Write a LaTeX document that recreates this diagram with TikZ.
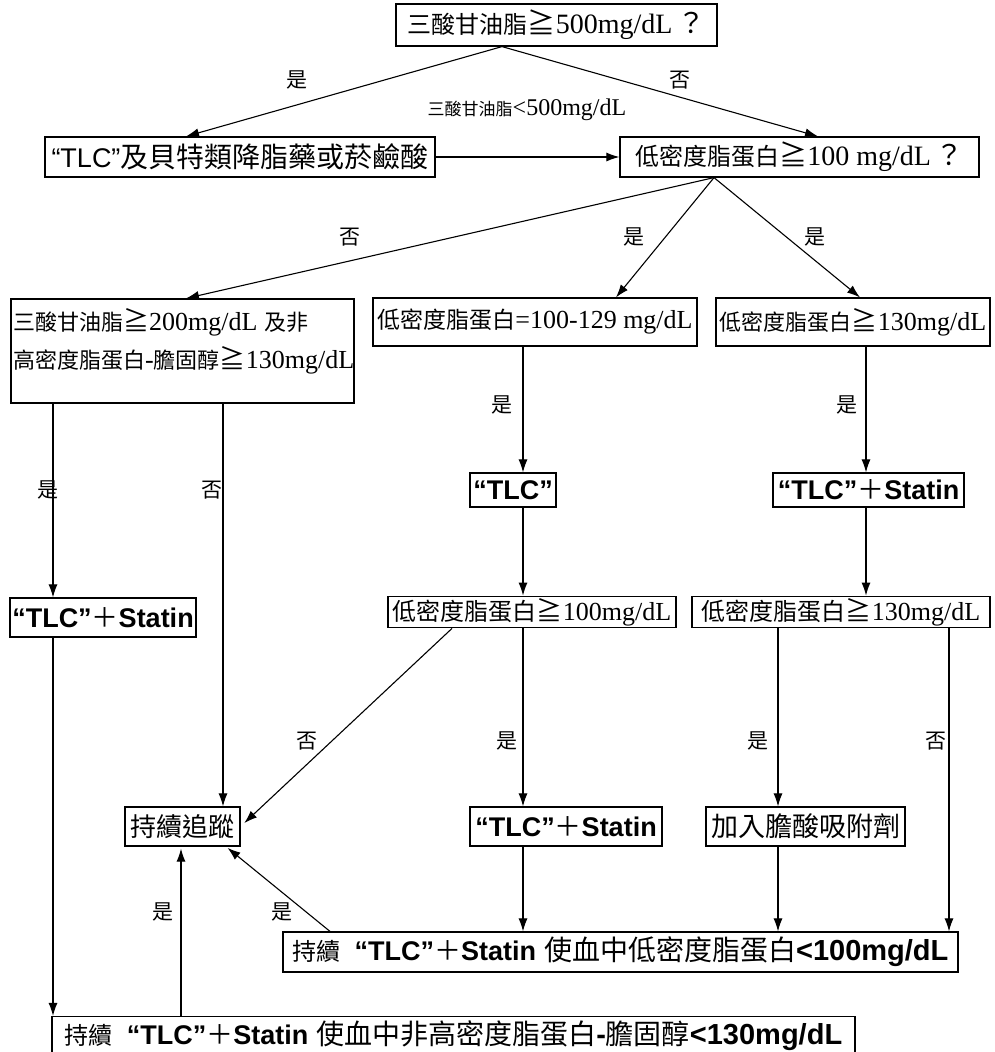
\documentclass[tikz,border=0pt]{standalone}
\usepackage{fontspec}
\setmainfont{Liberation Serif}
\newfontfamily\cj{Noto Sans CJK TC}
\newfontfamily\ar{Liberation Sans}
\usetikzlibrary{arrows.meta}
\newcommand\K[2]{{\cj\mdseries\fontsize{#1}{#1}\selectfont #2}}
\newcommand\C[1]{{\cj\mdseries #1}}
\begin{document}
\begin{tikzpicture}[x=1pt,y=-1pt,
  box/.style={draw,line width=1.2pt,inner sep=2pt},
  arr/.style={line width=1.1pt,-{Latex[length=13pt,width=9pt]}},
  lab/.style={inner sep=0pt,font=\cj\fontsize{21}{21}\selectfont},
  f26/.style={font=\fontsize{26}{28}\selectfont},
  f28/.style={font=\fontsize{28}{30}\selectfont},
  fb/.style={font=\ar\bfseries\fontsize{27}{29}\selectfont}]
\fill[white] (0,0) rectangle (994,1052);
\useasboundingbox (0,0) rectangle (994,1052);

% boxes
\node[box,f28,minimum width=321pt,minimum height=42pt] (top) at (556.5,25) {\K{24}{三酸甘油脂}\C{≧}500mg/dL\,\C{？}};
\node[box,minimum width=390pt,minimum height=40pt] (fib) at (240,157) {{\ar\fontsize{27}{29}\selectfont “TLC”}\K{28}{及貝特類降脂藥或菸鹼酸}};
\node[box,f28,minimum width=359pt,minimum height=40pt] (ldl) at (799.5,157) {\K{24}{低密度脂蛋白}\C{≧}100 mg/dL\,\C{？}};

\node[box,minimum width=343pt,minimum height=104pt] (lb) at (182.5,351) {};
\node[f26,anchor=base west,inner sep=0pt] (lb1) at (13,330) {\K{22}{三酸甘油脂}\C{≧}200mg/dL \K{22}{及非}};
\node[f26,anchor=base west,inner sep=0pt] (lb2) at (13,368) {\K{22}{高密度脂蛋白}-\K{22}{膽固醇}\C{≧}130mg/dL};
\node[box,f26,minimum width=324pt,minimum height=48pt] (mb) at (535,322) {\K{23}{低密度脂蛋白}=100-129 mg/dL};
\node[box,f26,minimum width=274pt,minimum height=48pt] (rb) at (853,322) {\K{22}{低密度脂蛋白}\C{≧}130mg/dL};

\node[box,fb,minimum width=86pt,minimum height=34pt] (tlc) at (513,490) {“TLC”};
\node[box,fb,minimum width=191pt,minimum height=34pt] (rts) at (868.5,490) {“TLC”\C{＋}Statin};
\node[box,fb,minimum width=186pt,minimum height=39pt] (lts) at (103,617.5) {“TLC”\C{＋}Statin};

\node[box,f26,minimum width=288pt,minimum height=30pt] (l100) at (532,612) {\K{24}{低密度脂蛋白}\C{≧}100mg/dL};
\node[box,f26,minimum width=298pt,minimum height=30pt] (l130) at (841,612) {\K{24}{低密度脂蛋白}\C{≧}130mg/dL};

\node[box,minimum width=115pt,minimum height=39pt] (follow) at (182.5,826.5) {\K{26}{持續追蹤}};
\node[box,fb,minimum width=192pt,minimum height=39pt] (mts) at (566,826.5) {“TLC”\C{＋}Statin};
\node[box,minimum width=199pt,minimum height=39pt] (add) at (805.5,826.5) {\K{27}{加入膽酸吸附劑}};

\node[box,fb,minimum width=675pt,minimum height=40pt] (bm) at (620.5,952) {\K{24}{持續}\hspace{14pt}“TLC”\C{＋}Statin\hspace{8pt}\K{28}{使血中低密度脂蛋白}{\fontsize{29}{31}\selectfont<100mg/dL}};
\node[box,fb,minimum width=803pt,minimum height=38pt] (bot) at (453.5,1035.5) {\K{24}{持續}\hspace{14pt}“TLC”\C{＋}Statin\hspace{8pt}\K{28}{使血中非高密度脂蛋白}{\fontsize{29}{31}\selectfont-}\K{28}{膽固醇}{\fontsize{29}{31}\selectfont<130mg/dL}};

% x positions
\coordinate (xA) at (502,0);
\coordinate (xB) at (186,0);
\coordinate (xC) at (818,0);
\coordinate (xD) at (714,0);
\coordinate (xF) at (616,0);
\coordinate (xG) at (860,0);
\coordinate (xH) at (523,0);
\coordinate (xI) at (866,0);
\coordinate (xJ) at (53,0);
\coordinate (xK) at (223,0);
\coordinate (xL) at (452,0);
\coordinate (xM) at (778,0);
\coordinate (xN) at (949,0);
\coordinate (xO) at (330,0);
\coordinate (xP) at (181,0);
\coordinate (xR) at (226,0);

% connectors
\draw[arr] (top.south -| xA) -- (fib.north -| xB);
\draw[arr] (top.south -| xA) -- (ldl.north -| xC);
\draw[arr] (fib.east) -- (ldl.west);
\draw[arr] (ldl.south -| xD) -- (lb.north -| xB);
\draw[arr] (ldl.south -| xD) -- (mb.north -| xF);
\draw[arr] (ldl.south -| xD) -- (rb.north -| xG);
\draw[arr] (mb.south -| xH) -- (tlc.north -| xH);
\draw[arr] (rb.south -| xI) -- (rts.north -| xI);
\draw[arr] (lb.south -| xJ) -- (lts.north -| xJ);
\draw[arr] (lb.south -| xK) -- (follow.north -| xK);
\draw[arr] (tlc.south -| xH) -- (l100.north -| xH);
\draw[arr] (rts.south -| xI) -- (l130.north -| xI);
\draw[arr,shorten >=5pt] (l100.south -| xL) -- (follow.east);
\draw[arr] (l100.south -| xH) -- (mts.north -| xH);
\draw[arr] (l130.south -| xM) -- (add.north -| xM);
\draw[arr] (l130.south -| xN) -- (bm.north -| xN);
\draw[arr] (mts.south -| xH) -- (bm.north -| xH);
\draw[arr] (add.south -| xM) -- (bm.north -| xM);
\draw[arr,shorten >=2pt] (bm.north -| xO) -- (follow.south -| xR);
\draw[arr] (lts.south -| xJ) -- (bot.north -| xJ);
\draw[arr,shorten >=2pt] (bot.north -| xP) -- (follow.south -| xP);

% labels
\node[lab] (t1) at (297,80) {是};
\node[lab] (t2) at (680,80) {否};
\node[inner sep=0pt,font=\fontsize{24}{26}\selectfont] (t3) at (527,110) {\K{17}{三酸甘油脂}<500mg/dL};
\node[lab] (t4) at (350,237) {否};
\node[lab] (t5) at (634,237) {是};
\node[lab] (t6) at (815,237) {是};
\node[lab] (t7) at (502,405) {是};
\node[lab] (t8) at (847,405) {是};
\node[lab] (t9) at (48,490) {是};
\node[lab] (t10) at (212,490) {否};
\node[lab] (t11) at (307,741) {否};
\node[lab] (t12) at (507,741) {是};
\node[lab] (t13) at (758,741) {是};
\node[lab] (t14) at (936,741) {否};
\node[lab] (t15) at (163,912) {是};
\node[lab] (t16) at (282,912) {是};
\end{tikzpicture}
\end{document}
